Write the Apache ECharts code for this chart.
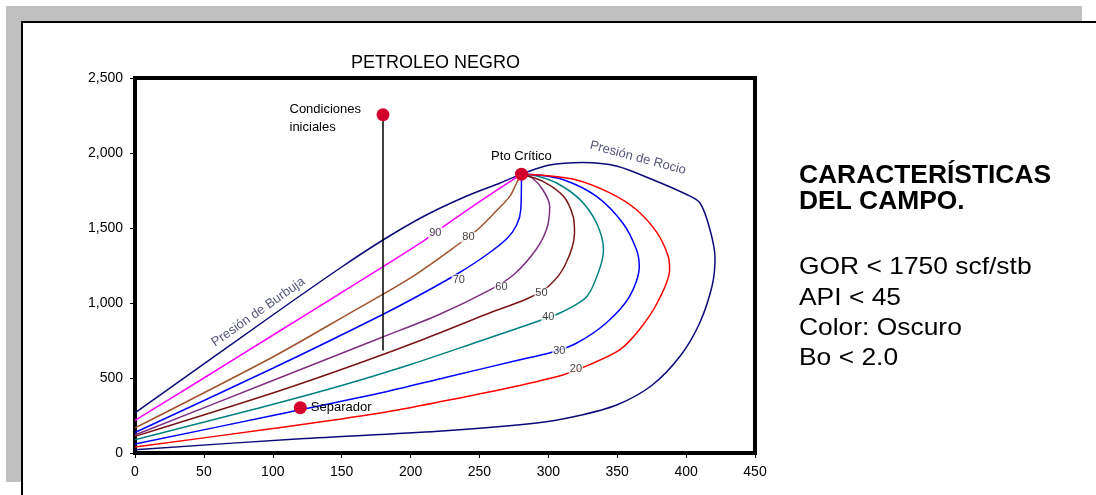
<!DOCTYPE html>
<html><head><meta charset="utf-8">
<script src="https://cdn.jsdelivr.net/npm/echarts@6/dist/echarts.min.js"></script>
<style>html,body{margin:0;padding:0;background:#fff}#c{width:1096px;height:495px}</style>
</head><body><div id="c"></div>
<script>
// ---- data ----
const chartTitle = 'PETROLEO NEGRO';
const xTickValues = [0,50,100,150,200,250,300,350,400,450];
const xTickLabels = ['0','50','100','150','200','250','300','350','400','450'];
const yTickValues = [0,500,1000,1500,2000,2500];
const yTickLabels = ['0','500','1,000','1,500','2,000','2,500'];

const bubbleCurve = [[0,267],[100,920],[150,1240],[180,1420],[210,1580],[240,1710],[265,1800],[280.5,1859]];
const dewCurve = [[280.5,1859],[300,1918],[325,1937],[350,1912],[375,1825],[400,1725],[410,1668],[417,1500],[421,1300],[419,1120],[410,870],[396,650],[375,450],[350,322],[320,245],[290,198],[220,145],[120,95],[0,22]];

const q90 = [[0,217],[50,500],[100,785],[150,1070],[209,1411],[226,1522],[252,1687],[280.5,1859]];
const q80 = [[0,167],[100,640],[156,933],[200,1167],[236,1400],[250,1500],[262,1611],[272,1711],[277,1800],[280.5,1859]];
const q70 = [[0,137],[100,565],[178,915],[210,1070],[235,1200],[255,1320],[270,1430],[277,1520],[280,1620],[280.5,1859]];
const q60 = [[0,120],[100,483],[178,767],[220,920],[258,1089],[275,1190],[291,1355],[299,1500],[301,1644],[296,1755],[288,1835],[280.5,1859]];
const q50 = [[0,111],[100,400],[160,590],[210,760],[255,925],[285,1030],[300,1110],[312,1250],[319,1467],[318,1577],[311,1711],[296,1811],[280.5,1859]];
const q40 = [[0,89],[90,300],[150,450],[200,590],[250,745],[293,880],[310,940],[328,1044],[337,1222],[340,1355],[335,1533],[323,1689],[306,1800],[291,1849],[280.5,1859]];
const q30 = [[0,60],[100,250],[178,400],[226,505],[274,610],[302,670],[320,730],[342,867],[359,1044],[366,1244],[364,1355],[354,1533],[335,1711],[311,1822],[291,1855],[280.5,1859]];
const q20 = [[0,40],[100,163],[178,267],[226,350],[274,440],[311,522],[330,589],[352,689],[366,822],[379,1000],[388,1222],[387,1311],[379,1467],[364,1622],[345,1733],[320,1822],[296,1852],[280.5,1859]];

const qualityLabels = ['90','80','70','60','50','40','30','20'];
const qualityLabelPos = [[218,1469],[242,1437],[235,1155],[266,1105],[295,1065],[300,908],[308,678],[320,560]];

const keyPointNames = ['Condiciones\niniciales','Pto Crítico','Separador'];
const keyPoints = [[180,2255],[280.5,1859],[120,302]];
const initialPath = [[180,2255],[180,684]];

const curveNames = ['Presión de Burbuja','Presión de Rocio'];
const curveNamePos = [[89.5,940],[365,1967]];

const sideHeading = ['CARACTERÍSTICAS','DEL CAMPO.'];
const sideLines = ['GOR < 1750 scf/stb','API < 45','Color: Oscuro','Bo < 2.0'];

// ---- styles ----
const FONT = '"Liberation Sans", Arial, sans-serif';
const qualitySeries = [q90,q80,q70,q60,q50,q40,q30,q20];
const qualityColors = ['#ff00ff','#a0522d','#0000ff','#7f2f80','#7a1515','#008080','#0000ff','#ff0000'];
const navy = '#0a0a78';
const pointColor = '#d4002c';

const chart = echarts.init(document.getElementById('c'), null, {renderer:'canvas'});

const series = [];
series.push({type:'line', data: bubbleCurve.concat(dewCurve.slice(1)), smooth:0.3, symbol:'none',
  lineStyle:{color:navy, width:1.5}, z:2, silent:true});
qualitySeries.forEach((d,i)=>{
  series.push({type:'line', data:d, smooth:0.3, symbol:'none',
    lineStyle:{color:qualityColors[i], width:1.5}, z:2, silent:true});
});
series.push({type:'line', data: initialPath, symbol:'none', lineStyle:{color:'#000', width:1.5}, z:3, silent:true});
series.push({type:'scatter', symbolSize:1, itemStyle:{color:'rgba(0,0,0,0)'}, z:4, silent:true,
  data: qualityLabelPos.map((p,i)=>({value:p, label:{formatter: qualityLabels[i]}})),
  label:{show:true, position:'inside', color:'#111', fontSize:11, fontFamily:FONT,
    backgroundColor:'#fff', padding:[0,1]}});
series.push({type:'scatter', symbolSize:1, itemStyle:{color:'rgba(0,0,0,0)'}, z:4, silent:true,
  data: curveNamePos.map((p,i)=>({value:p, label:{formatter: curveNames[i], rotate: i===0?35:-15}})),
  label:{show:true, position:'inside', color:'#2a2a5a', fontSize:13, fontFamily:FONT}});
const pointLabelCfg = [
  {show:true, position:[-87,-8], align:'left', verticalAlign:'top', lineHeight:18},
  {show:true, position:'top', distance:5},
  {show:true, position:'right', distance:4}
];
series.push({type:'scatter', symbolSize:13, itemStyle:{color:pointColor, opacity:1}, z:5, silent:true,
  data: keyPoints.map((p,i)=>({value:p, label:Object.assign({formatter:keyPointNames[i]}, pointLabelCfg[i])})),
  label:{color:'#000', fontSize:13, fontFamily:FONT}});

const graphics = [
  {type:'rect', z:-20, shape:{x:6,y:6,width:1076,height:476}, style:{fill:'#c0c0c0'}},
  {type:'rect', z:-19, shape:{x:22,y:22,width:1100,height:500}, style:{fill:'#fff', stroke:'#000', lineWidth:2}}
];
const headY = [176,202.5];
sideHeading.forEach((t,i)=>graphics.push({type:'text', z:10, x:799, y:headY[i], scaleX:1.055,
  style:{text:t, font:'bold 25px '+FONT, fill:'#000', verticalAlign:'middle'}}));
const lineY = [267,298,328,358];
sideLines.forEach((t,i)=>graphics.push({type:'text', z:10, x:799, y:lineY[i], scaleX:1.1,
  style:{text:t, font:'24px '+FONT, fill:'#000', verticalAlign:'middle'}}));

chart.setOption({
  animation:false,
  backgroundColor:'#fff',
  title:{text:chartTitle, left:351, top:54, padding:0,
    textStyle:{fontSize:18, fontWeight:'normal', color:'#000', fontFamily:FONT}},
  grid:{left:135, right:341, top:78, bottom:42, show:true, borderColor:'#000', borderWidth:4, backgroundColor:'rgba(0,0,0,0)'},
  xAxis:{type:'value', min:0, max:450, interval:50,
    axisLine:{show:false}, splitLine:{show:false},
    axisTick:{show:true, length:5, lineStyle:{color:'#000'}},
    axisLabel:{margin:12, color:'#000', fontSize:14, fontFamily:FONT,
      formatter:v=>xTickLabels[xTickValues.indexOf(v)] ?? ''}},
  yAxis:{type:'value', min:0, max:2500, interval:500,
    axisLine:{show:false}, splitLine:{show:false},
    axisTick:{show:true, length:5, lineStyle:{color:'#000'}},
    axisLabel:{margin:12, color:'#000', fontSize:14, fontFamily:FONT,
      formatter:v=>yTickLabels[yTickValues.indexOf(v)] ?? ''}},
  graphic: graphics,
  series: series
});
</script></body></html>
